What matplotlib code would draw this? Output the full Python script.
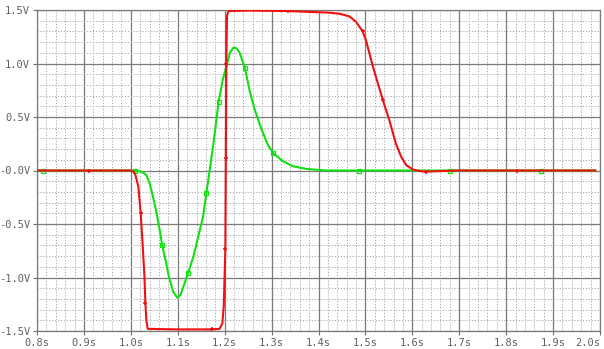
import matplotlib
matplotlib.use("Agg")
import matplotlib.pyplot as plt
from matplotlib.ticker import MultipleLocator

# red trace
red_t = [0.80, 0.91, 1.000, 1.005, 1.009, 1.016, 1.021, 1.025, 1.029, 1.031,
         1.033, 1.036, 1.10, 1.172, 1.189, 1.195, 1.198, 1.200, 1.2015, 1.2025,
         1.2035, 1.205, 1.208, 1.25, 1.336, 1.423, 1.445, 1.466, 1.480, 1.494,
         1.501, 1.516, 1.537, 1.551, 1.565, 1.576, 1.587, 1.601, 1.615, 1.629,
         1.70, 1.823, 1.99]
red_v = [0.0, 0.0, 0.0, -0.01, -0.03, -0.15, -0.40, -0.68, -0.99, -1.24,
         -1.40, -1.48, -1.485, -1.485, -1.48, -1.43, -1.27, -0.96, -0.73, 0.12,
         1.00, 1.45, 1.49, 1.495, 1.49, 1.475, 1.465, 1.44, 1.39, 1.30,
         1.22, 0.97, 0.66, 0.47, 0.25, 0.13, 0.05, 0.01, -0.005, -0.01,
         0.0, 0.0, 0.0]
red_mark_t = [0.91, 1.021, 1.030, 1.172, 1.2015, 1.2025, 1.2035, 1.336, 1.494, 1.537, 1.629, 1.823]
red_mark_v = [0.0, -0.40, -1.24, -1.485, -0.73, 0.12, 1.00, 1.49, 1.30, 0.66, -0.01, 0.0]

# green trace
green_t = [0.80, 1.000, 1.010, 1.022, 1.033, 1.040, 1.047, 1.055, 1.062, 1.067,
           1.074, 1.081, 1.090, 1.099, 1.106, 1.115, 1.122, 1.133, 1.143, 1.154,
           1.161, 1.168, 1.176, 1.187, 1.196, 1.204, 1.211, 1.219, 1.226, 1.232,
           1.243, 1.253, 1.264, 1.279, 1.292, 1.304, 1.323, 1.345, 1.374, 1.417,
           1.50, 1.70, 1.99]
green_v = [0.0, 0.0, -0.005, -0.01, -0.04, -0.12, -0.24, -0.40, -0.57, -0.70,
           -0.84, -0.99, -1.13, -1.19, -1.16, -1.05, -0.96, -0.81, -0.63, -0.43,
           -0.21, 0.0, 0.25, 0.64, 0.85, 0.98, 1.10, 1.15, 1.14, 1.10,
           0.96, 0.75, 0.57, 0.38, 0.24, 0.16, 0.09, 0.04, 0.015, 0.0,
           0.0, 0.0, 0.0]
green_mark_t = [0.813, 1.008, 1.067, 1.122, 1.161, 1.187, 1.243, 1.304, 1.487, 1.68, 1.875]
green_mark_v = [0.0, 0.0, -0.70, -0.96, -0.21, 0.64, 0.96, 0.16, 0.0, 0.0, 0.0]

x_ticks = [0.8, 0.9, 1.0, 1.1, 1.2, 1.3, 1.4, 1.5, 1.6, 1.7, 1.8, 1.9, 2.0]
x_labels = ["0.8s", "0.9s", "1.0s", "1.1s", "1.2s", "1.3s", "1.4s",
            "1.5s", "1.6s", "1.7s", "1.8s", "1.9s", "2.0s"]
y_ticks = [1.5, 1.0, 0.5, 0.0, -0.5, -1.0, -1.5]
y_labels = ["1.5V", "1.0V", "0.5V", "-0.0V", "-0.5V", "-1.0V", "-1.5V"]

RED = "#f01010"
GREEN = "#10e010"


def main():
    fig = plt.figure(figsize=(6.04, 3.49), dpi=100)
    ax = fig.add_axes([37 / 604, 18 / 349, 563 / 604, 321 / 349])
    ax.set_xlim(0.8, 2.0)
    ax.set_ylim(-1.5, 1.5)

    ax.xaxis.set_minor_locator(MultipleLocator(0.02))
    ax.yaxis.set_minor_locator(MultipleLocator(0.1))
    ax.set_xticks(x_ticks)
    ax.set_xticklabels(x_labels)
    ax.set_yticks(y_ticks)
    ax.set_yticklabels(y_labels)
    ax.grid(which="major", color="#7a7a7a", linewidth=0.9, linestyle="-")
    ax.grid(which="minor", color="#a8a8a8", linewidth=0.7, linestyle=(0, (1.2, 1.8)))
    ax.set_axisbelow(True)

    ax.tick_params(which="major", direction="out", length=3, width=0.8,
                   colors="#707070", labelsize=7.5, pad=2)
    ax.tick_params(which="minor", length=0)
    for lab in ax.get_xticklabels() + ax.get_yticklabels():
        lab.set_family("DejaVu Sans Mono")
        lab.set_color("#606060")
    ax.get_xticklabels()[-1].set_horizontalalignment("right")
    for s in ax.spines.values():
        s.set_color("#7a7a7a")
        s.set_linewidth(0.9)

    ax.plot(green_t, green_v, color=GREEN, linewidth=1.5, zorder=3)
    ax.plot(green_mark_t, green_mark_v, linestyle="none", marker="s", markersize=3,
            markerfacecolor="none", markeredgecolor=GREEN, markeredgewidth=0.9, zorder=3)
    ax.plot(red_t, red_v, color=RED, linewidth=1.5, zorder=4)
    ax.plot(red_mark_t, red_mark_v, linestyle="none", marker="+", markersize=3.5,
            color=RED, markeredgewidth=1.1, zorder=4)

    fig.savefig("out.png", dpi=100)


if __name__ == "__main__":
    main()
